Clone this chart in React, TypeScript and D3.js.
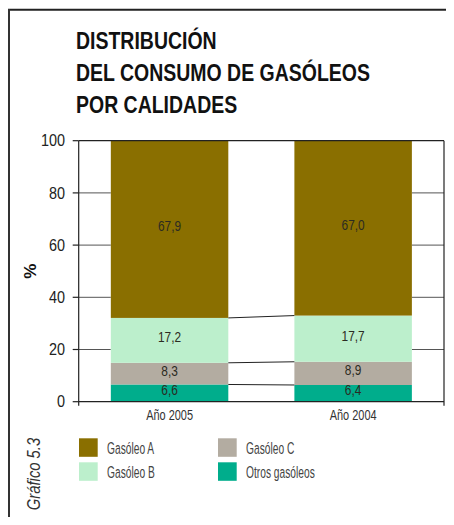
import React from "react";
import * as d3 from "d3";

const years = ["Año 2005", "Año 2004"];
const seriesNames = ["Otros gasóleos", "Gasóleo C", "Gasóleo B", "Gasóleo A"];
const otros = [6.6, 6.4];
const gasoleoC = [8.3, 8.9];
const gasoleoB = [17.2, 17.7];
const gasoleoA = [67.9, 67.0];
const seriesColors = ["#00ad8c", "#b3aca1", "#bcefcc", "#8a6f00"];
const yTicks = [0, 20, 40, 60, 80, 100];
const legendOrder = ["Gasóleo A", "Gasóleo B", "Gasóleo C", "Otros gasóleos"];
const titleLines = ["DISTRIBUCIÓN", "DEL CONSUMO DE GASÓLEOS", "POR CALIDADES"];

const FONT = "'Liberation Sans', Arial, sans-serif";

function T(props: any) {
  const { x, y, sx = 1, rot = 0, children, ...rest } = props;
  return (
    <text transform={`translate(${x},${y}) rotate(${rot}) scale(${sx},1)`} fontFamily={FONT} {...rest}>
      {children}
    </text>
  );
}

export default function App() {
  const W = 454, H = 525;
  const left = 78.7, right = 444, top = 140.7, bottom = 401.7;
  const x = d3.scaleBand<string>().domain(years).range([left, right]).paddingInner(0.36).paddingOuter(0.175);
  const y = d3.scaleLinear().domain([0, 100]).range([bottom, top]);

  const rows = years.map((yr, i) => ({
    year: yr,
    "Otros gasóleos": otros[i],
    "Gasóleo C": gasoleoC[i],
    "Gasóleo B": gasoleoB[i],
    "Gasóleo A": gasoleoA[i],
  }));
  const stack = d3.stack<any>().keys(seriesNames)(rows);
  const color = d3.scaleOrdinal<string, string>().domain(seriesNames).range(seriesColors);

  const bw = x.bandwidth();
  const x0 = x(years[0])!;
  const x1 = x(years[1])!;

  return (
    <div style={{ margin: "-8px" }}>
      <svg width={W} height={H} style={{ display: "block" }}>
        <rect width={W} height={H} fill="#fff" />
        {/* frame */}
        <line x1={8} y1={9.8} x2={W} y2={9.8} stroke="#222" strokeWidth={2} />
        <line x1={9} y1={9} x2={9} y2={H} stroke="#333" strokeWidth={2} />

        {/* title */}
        {titleLines.map((t, i) => (
          <T key={t} x={76} y={49.3 + i * 32} sx={0.795} fontWeight="bold" fontSize={24.5} fill="#111">
            {t}
          </T>
        ))}

        {/* gridlines in outer gaps */}
        {yTicks.filter((t) => t > 0 && t < 100).map((t) => (
          <g key={t}>
            <line x1={left} x2={x0} y1={y(t)} y2={y(t)} stroke="#555" strokeWidth={1} />
            <line x1={x1 + bw} x2={right} y1={y(t)} y2={y(t)} stroke="#555" strokeWidth={1} />
          </g>
        ))}

        {/* bars */}
        {stack.map((s) => (
          <g key={s.key} fill={color(s.key)}>
            {s.map((d: any, i: number) => (
              <rect key={i} x={x(d.data.year)} width={bw} y={y(d[1])} height={y(d[0]) - y(d[1])} />
            ))}
          </g>
        ))}

        {/* connectors */}
        {stack.slice(0, 3).map((s) => (
          <line key={s.key} x1={x0 + bw} x2={x1} y1={y(s[0][1])} y2={y(s[1][1])} stroke="#222" strokeWidth={1} />
        ))}

        {/* segment labels */}
        {stack.map((s) =>
          s.map((d: any, i: number) => {
            const yc = (y(d[0]) + y(d[1])) / 2;
            const cy = Math.min(yc - 3, y(d[0]) - 7.5);
            return (
              <T key={s.key + i} x={x(d.data.year)! + bw / 2} y={cy} sx={0.85} dy="0.35em" textAnchor="middle"
                fontSize={14} fill="#2b2b22">
                {(d[1] - d[0]).toFixed(1).replace(".", ",")}
              </T>
            );
          })
        )}

        {/* axes */}
        <line x1={left} x2={right} y1={top} y2={top} stroke="#222" strokeWidth={1.2} />
        <line x1={left} x2={left} y1={top} y2={bottom + 4} stroke="#222" strokeWidth={1.2} />
        <line x1={right} x2={right} y1={top} y2={bottom + 4} stroke="#222" strokeWidth={1.2} />
        <line x1={left} x2={right} y1={bottom} y2={bottom} stroke="#222" strokeWidth={1.2} />
        {yTicks.map((t) => (
          <g key={t}>
            <line x1={left - 6} x2={left} y1={y(t)} y2={y(t)} stroke="#222" strokeWidth={1.2} />
            <T x={65} y={y(t)} sx={0.9} dy="0.36em" textAnchor="end" fontSize={16} fill="#222">
              {t}
            </T>
          </g>
        ))}
        <T x={36} y={(top + bottom) / 2} rot={-90} textAnchor="middle" fontWeight="bold" fontSize={17} fill="#111">
          %
        </T>
        {years.map((yr) => (
          <T key={yr} x={x(yr)! + bw / 2} y={419.5} sx={0.73} textAnchor="middle" fontSize={15} fill="#333">
            {yr}
          </T>
        ))}

        {/* side caption */}
        <T x={40} y={474} rot={-90} sx={0.78} textAnchor="middle" fontStyle="italic" fontSize={19} fill="#333">
          Gráfico 5.3
        </T>

        {/* legend */}
        {legendOrder.map((name, i) => {
          const col = Math.floor(i / 2), row = i % 2;
          const lx = col === 0 ? 79 : 218;
          const ly = 438.3 + row * 24;
          return (
            <g key={name}>
              <rect x={lx} y={ly} width={18.7} height={18.5} fill={color(name)} />
              <T x={lx + 28} y={ly + 9.5} sx={0.62} dy="0.36em" fontSize={16.5} fill="#444">
                {name}
              </T>
            </g>
          );
        })}
      </svg>
    </div>
  );
}
